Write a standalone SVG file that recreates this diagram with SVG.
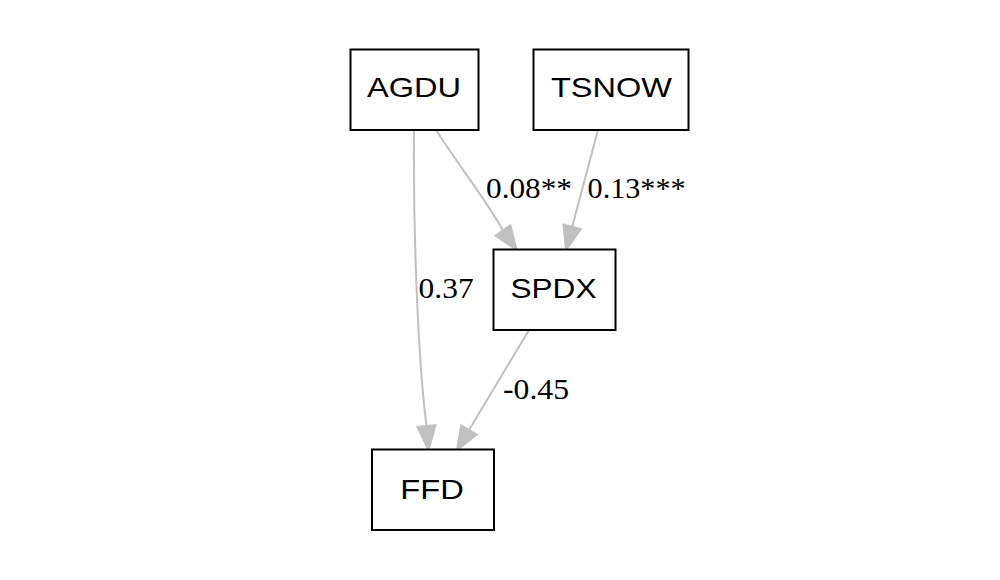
<svg xmlns="http://www.w3.org/2000/svg" width="1000" height="580" viewBox="0 0 1000 580">
  <style>
    .node rect { fill: #ffffff; stroke: #000000; stroke-width: 2; }
    .node text { font-family: "Liberation Sans", Arial, sans-serif; font-size: 28.5px; fill: #000000; text-anchor: middle; }
    .edge path { fill: none; stroke: #c0c0c0; stroke-width: 2; }
    .edge polygon { fill: #c0c0c0; stroke: #c0c0c0; stroke-width: 2; }
    .lbl { font-family: "Liberation Serif", "Times New Roman", serif; font-size: 29px; fill: #000000; }
  </style>
  <rect x="0" y="0" width="1000" height="580" fill="#ffffff"/>
  <g id="connectors">
    <g class="edge" id="e_AGDU_FFD">
      <path d="M414,130 C413,230 418,360 426.5,426"/>
      <polygon points="428.5,450 417.5,426.8 435.5,425.2"/>
      <text class="lbl" x="418.6" y="298" textLength="55" lengthAdjust="spacingAndGlyphs">0.37</text>
    </g>
    <g class="edge" id="e_AGDU_SPDX">
      <path d="M436,130 C462,170 486,200 503,230.5"/>
      <polygon points="516.7,250 510.4,225.3 495.6,235.7"/>
      <text class="lbl" x="486" y="198" textLength="86" lengthAdjust="spacingAndGlyphs">0.08**</text>
    </g>
    <g class="edge" id="e_TSNOW_SPDX">
      <path d="M598,130 L572.2,226.8"/>
      <polygon points="566,250 580.9,229.1 563.5,224.5"/>
      <text class="lbl" x="587.6" y="198" textLength="98" lengthAdjust="spacingAndGlyphs">0.13***</text>
    </g>
    <g class="edge" id="e_SPDX_FFD">
      <path d="M529,330 L469.3,429.4"/>
      <polygon points="457,450 476.6,434.6 461.2,425.4"/>
      <text class="lbl" x="503" y="399" textLength="66" lengthAdjust="spacingAndGlyphs">-0.45</text>
    </g>
  </g>
  <g class="node" id="AGDU">
    <rect x="350.5" y="49.5" width="128" height="80.5"/>
    <text x="414" y="97" textLength="94" lengthAdjust="spacingAndGlyphs">AGDU</text>
  </g>
  <g class="node" id="TSNOW">
    <rect x="533.5" y="49.5" width="155" height="80.5"/>
    <text x="611.5" y="97" textLength="121" lengthAdjust="spacingAndGlyphs">TSNOW</text>
  </g>
  <g class="node" id="SPDX">
    <rect x="493.5" y="249.5" width="122" height="80.5"/>
    <text x="553.5" y="298" textLength="86" lengthAdjust="spacingAndGlyphs">SPDX</text>
  </g>
  <g class="node" id="FFD">
    <rect x="372" y="449.5" width="122" height="80.5"/>
    <text x="432" y="498.5" textLength="63.5" lengthAdjust="spacingAndGlyphs">FFD</text>
  </g>
</svg>
